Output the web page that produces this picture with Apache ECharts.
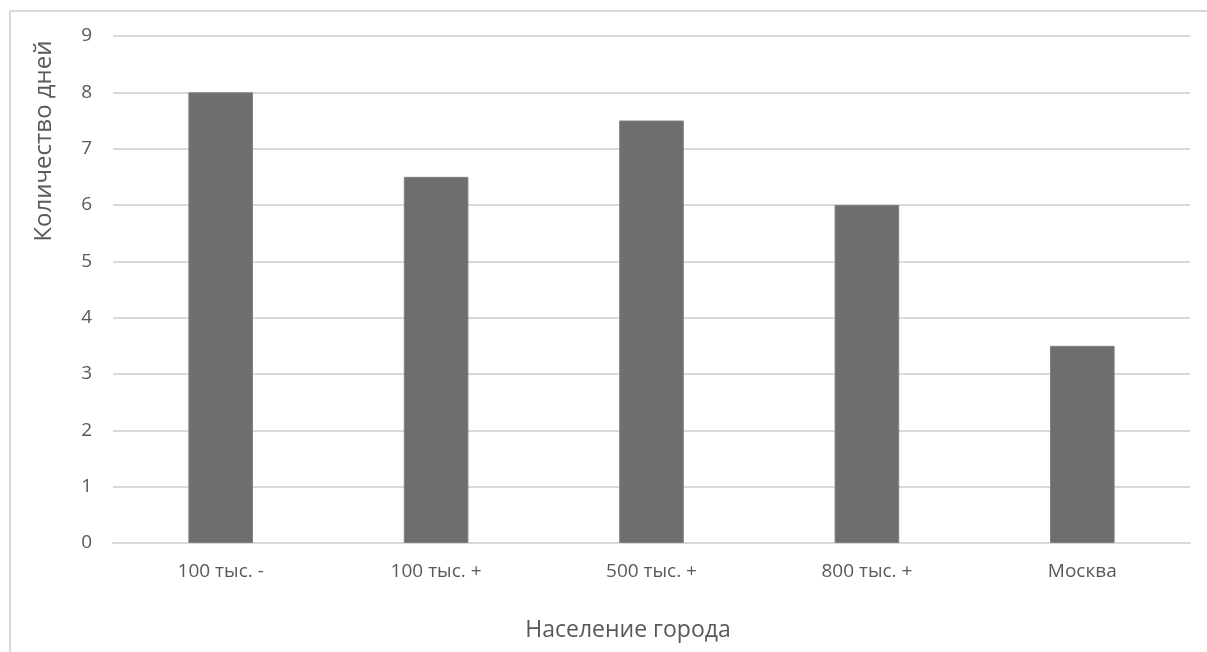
<!DOCTYPE html>
<html>
<head>
<meta charset="utf-8">
<script src="https://cdn.jsdelivr.net/npm/echarts@6/dist/echarts.min.js"></script>
<style>
  html, body { margin: 0; padding: 0; background: #fff; }
  #chart { width: 1207px; height: 652px; }
</style>
</head>
<body>
<div id="chart"></div>
<script>
// Число дней в зависимости от населения города
const categories = ['100 тыс. -', '100 тыс. +', '500 тыс. +', '800 тыс. +', 'Москва'];
const days = [8, 6.5, 7.5, 6, 3.5];
const yTitle = 'Количество дней';
const xTitle = 'Население города';

const font = '"Open Sans", "Noto Sans", sans-serif';
const chart = echarts.init(document.getElementById('chart'));

chart.setOption({
  animation: false,
  backgroundColor: '#ffffff',
  grid: { left: 113, right: 17, top: 36, bottom: 109, containLabel: false },
  xAxis: {
    type: 'category',
    data: categories,
    axisLine: { show: true, lineStyle: { color: '#d9d9d9', width: 2 } },
    axisTick: { show: false },
    axisLabel: { color: '#595959', fontFamily: font, fontSize: 19, margin: 19 }
  },
  yAxis: {
    type: 'value',
    min: 0,
    max: 9,
    interval: 1,
    axisLine: { show: false },
    axisTick: { show: false },
    splitLine: { lineStyle: { color: '#d9d9d9', width: 2 } },
    axisLabel: { color: '#595959', fontFamily: font, fontSize: 19, margin: 21 }
  },
  series: [{
    type: 'bar',
    data: days,
    barWidth: '30%',
    itemStyle: { color: '#6e6e6e', borderColor: '#808080', borderWidth: 1 }
  }],
  graphic: [
    { type: 'line', shape: { x1: 10, y1: 11, x2: 1207, y2: 11 }, style: { stroke: '#d9d9d9', lineWidth: 2 } },
    { type: 'line', shape: { x1: 10, y1: 11, x2: 10, y2: 652 }, style: { stroke: '#d9d9d9', lineWidth: 2 } },
    {
      type: 'text', x: 44, y: 141, rotation: Math.PI / 2,
      style: { text: yTitle, fill: '#595959', font: '24px ' + font, align: 'center', verticalAlign: 'middle' }
    },
    {
      type: 'text', x: 628, y: 630,
      style: { text: xTitle, fill: '#595959', font: '23px ' + font, align: 'center', verticalAlign: 'middle' }
    }
  ]
});
</script>
</body>
</html>
